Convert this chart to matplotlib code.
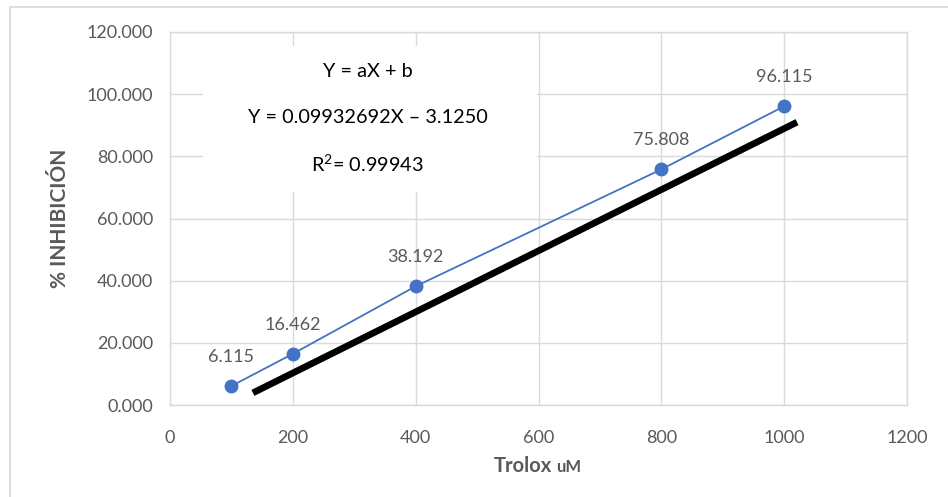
import matplotlib
matplotlib.use("Agg")
import matplotlib.pyplot as plt
from matplotlib.patches import Rectangle

# --- data ---
trolox_um = [100, 200, 400, 800, 1000]
inhibicion = [6.115, 16.462, 38.192, 75.808, 96.115]
etiquetas = ["6.115", "16.462", "38.192", "75.808", "96.115"]

# black hand-drawn trend line (endpoints)
linea_x = [135, 1021]
linea_y = [3.9, 91.0]

x_ticks = [0, 200, 400, 600, 800, 1000, 1200]
y_ticks = [0, 20, 40, 60, 80, 100, 120]

ecuacion = ["Y = aX + b", "Y = 0.09932692X \u2013 3.1250", r"R$^{2}$= 0.99943"]

AZUL = "#4472C4"
GRIS = "#595959"
REJILLA = "#D9D9D9"

plt.rcParams['font.family'] = ['Lato', 'DejaVu Sans']
plt.rcParams['mathtext.fontset'] = 'custom'
plt.rcParams['mathtext.rm'] = 'Lato'

fig = plt.figure(figsize=(9.48, 4.97), dpi=100)
ax = fig.add_axes([170/948, 1 - 405/497, 737/948, 373/497])

# outer chart border
fig.patches.append(Rectangle((10/948, -0.1), 1.2, 1 - 7/497 + 0.1,
                             transform=fig.transFigure, fill=False,
                             edgecolor=REJILLA, linewidth=1.2))

ax.set_xlim(0, 1200)
ax.set_ylim(0, 120)
ax.set_xticks(x_ticks)
ax.set_yticks(y_ticks)
ax.set_yticklabels([f"{v:.3f}" for v in y_ticks])
ax.tick_params(length=0, labelsize=13, labelcolor=GRIS, pad=12)
ax.tick_params(axis='x', pad=18)
for s in ax.spines.values():
    s.set_color(REJILLA)
    s.set_linewidth(1)
ax.set_axisbelow(True)
ax.grid(True, color=REJILLA, linewidth=1)

# white box behind equation
ax.add_patch(Rectangle((54, 68.5), 543, 47, facecolor="white",
                       edgecolor="none", zorder=1))
for i, t in enumerate(ecuacion):
    ax.text(322, 107.3 - i * 14.8, t, ha="center", va="center",
            fontsize=14.3, color="black", zorder=2)

ax.plot(linea_x, linea_y, color="black", linewidth=4.8,
        solid_capstyle="butt", zorder=3)
ax.plot(trolox_um, inhibicion, color=AZUL, linewidth=1.3, marker="o",
        markersize=9, zorder=4)
for x, y, t in zip(trolox_um, inhibicion, etiquetas):
    ax.annotate(t, (x, y), xytext=(0, 21), textcoords="offset points",
                ha="center", va="center", fontsize=13, color=GRIS)

ax.set_ylabel("% INHIBICIÓN", fontsize=15, fontweight="bold",
              color=GRIS, labelpad=12)
fig.text(552/948, 1 - 466/497, "Trolox", fontsize=14.5, fontweight="bold",
         color=GRIS, ha="right", va="center")
fig.text(556/948, 1 - 467/497, "uM", fontsize=12, fontweight="bold",
         color=GRIS, ha="left", va="center")

fig.savefig("out.png", dpi=100)
